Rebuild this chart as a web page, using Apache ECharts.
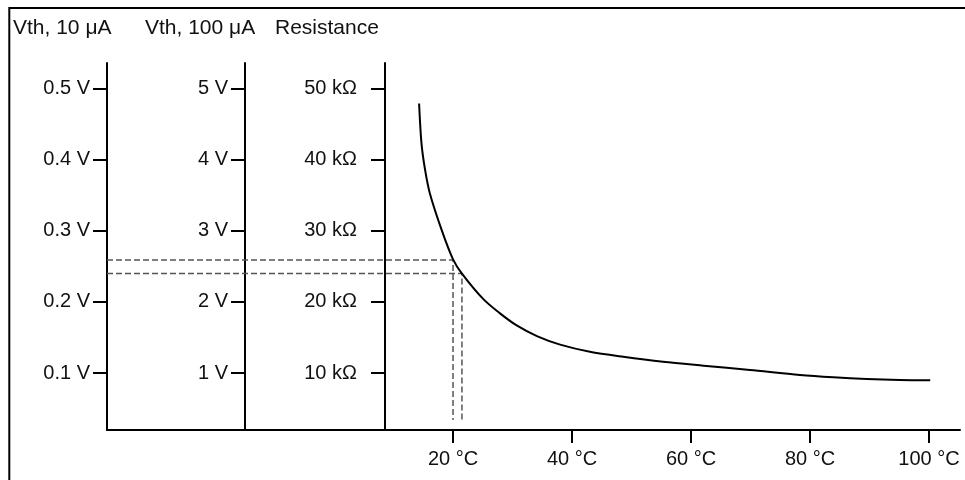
<!DOCTYPE html>
<html>
<head>
<meta charset="utf-8">
<script src="https://cdn.jsdelivr.net/npm/echarts@6.0.0/dist/echarts.min.js"></script>
<style>
html, body { margin: 0; padding: 0; background: #fff; }
#chart { width: 965px; height: 480px; }
</style>
</head>
<body>
<div id="chart"></div>
<script>
// curve: temperature (°C) -> resistance (kΩ)
var temps = [14.3, 14.7, 15.3, 16.1, 18.1, 20.0, 21.5, 25.1, 27.9, 30.7, 34.1, 38.0, 43.0, 48.6, 55.3, 62.1, 69.9, 78.3, 83.9, 89.5, 95.1, 100.2];
var resist = [47.9, 42.3, 38.6, 35.3, 30.1, 26.0, 24.0, 20.4, 18.4, 16.7, 15.2, 14.0, 13.0, 12.3, 11.6, 11.05, 10.45, 9.75, 9.42, 9.18, 9.04, 9.0];

// tick labels
var tempTicks = [20, 40, 60, 80, 100];
var resTicks = [10, 20, 30, 40, 50];
var vth10Ticks = [0.1, 0.2, 0.3, 0.4, 0.5];
var vth100Ticks = [1, 2, 3, 4, 5];

// dashed read-off guides (temperature, resistance)
var markTemps = [20, 21.5];
var markRes = [25.9, 24.0];
var guideBottom = 3.4;

var axisMin = -38.15, axisMax = 105.2;
var font = "'Liberation Sans', Arial, sans-serif";
var ink = '#111';

var chart = echarts.init(document.getElementById('chart'));

function guide(i) {
  return {
    type: 'line',
    xAxisIndex: 0,
    yAxisIndex: 2,
    silent: true,
    symbol: 'none',
    animation: false,
    lineStyle: { color: '#555', width: 1.5, type: [6, 3] },
    data: [[axisMin, markRes[i]], [markTemps[i], markRes[i]], [markTemps[i], guideBottom]]
  };
}

function yAx(min, max, ticks, fmt, offset, margin, pad) {
  return {
    type: 'value',
    position: 'left',
    offset: offset,
    min: min,
    max: max,
    axisLine: { show: true, onZero: false, lineStyle: { color: '#000', width: 2 } },
    axisTick: { show: true, length: 14, customValues: ticks, lineStyle: { color: '#000', width: 2 } },
    axisLabel: {
      customValues: ticks,
      margin: margin,
      formatter: fmt,
      fontSize: 20,
      color: ink,
      fontFamily: font,
      padding: [0, 0, pad, 0]
    },
    splitLine: { show: false }
  };
}

var titleStyle = { fontSize: 21, fontWeight: 'normal', color: ink, fontFamily: font };

chart.setOption({
  animation: false,
  backgroundColor: '#fff',
  title: [
    { text: 'Vth, 10 μA', left: 13, top: 18, padding: 0, textStyle: titleStyle },
    { text: 'Vth, 100 μA', left: 145, top: 18, padding: 0, textStyle: titleStyle },
    { text: 'Resistance', left: 275, top: 18, padding: 0, textStyle: titleStyle }
  ],
  graphic: [
    { type: 'rect', shape: { x: 9.3, y: 8, width: 1000, height: 500 }, style: { fill: 'none', stroke: '#000', lineWidth: 2 }, silent: true }
  ],
  grid: { left: 107, right: 5, top: 63, bottom: 50 },
  xAxis: {
    type: 'value',
    min: axisMin,
    max: axisMax,
    axisLine: { show: true, onZero: false, lineStyle: { color: '#000', width: 2 } },
    axisTick: { show: true, length: 13, customValues: tempTicks, lineStyle: { color: '#000', width: 2 } },
    axisLabel: {
      customValues: tempTicks,
      margin: 19,
      formatter: function (v) { return v + ' °C'; },
      fontSize: 20,
      color: ink,
      fontFamily: font
    },
    splitLine: { show: false }
  },
  yAxis: [
    yAx(0.02, 0.536, vth10Ticks, function (v) { return v.toFixed(1) + ' V'; }, 0, 17, 14),
    yAx(0.2, 5.36, vth100Ticks, function (v) { return v + ' V'; }, -138, 17, 14),
    yAx(2, 53.6, resTicks, function (v) { return v + ' kΩ'; }, -278, 28, 8)
  ],
  series: [
    guide(0),
    guide(1),
    {
      type: 'line',
      xAxisIndex: 0,
      yAxisIndex: 2,
      smooth: 0.3,
      symbol: 'none',
      lineStyle: { color: '#000', width: 2 },
      data: temps.map(function (t, i) { return [t, resist[i]]; })
    }
  ]
});
</script>
</body>
</html>
